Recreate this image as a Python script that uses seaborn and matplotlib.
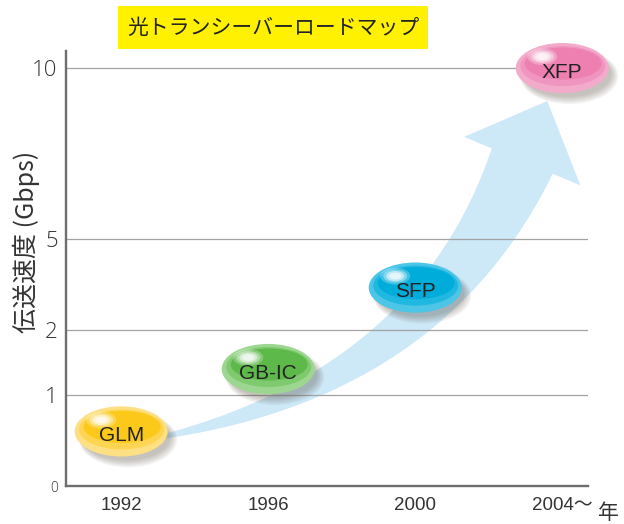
import numpy as np
import pandas as pd
import matplotlib
matplotlib.use("Agg")
import matplotlib.pyplot as plt
from matplotlib import font_manager
from matplotlib.patches import Ellipse, Polygon, Rectangle
from matplotlib.path import Path
from matplotlib.transforms import ScaledTranslation
import seaborn as sns

# data
products = ["GLM", "GB-IC", "SFP", "XFP"]
years = [1992, 1996, 2000, 2004]
speed_gbps = [0.6, 1.4, 3.4, 10]
year_labels = ["1992", "1996", "2000", "2004～"]
y_ticks = [0, 1, 2, 5, 10]
y_ticklabels = ["0", "1", "2", "5", "10"]
outer_colors = ["#fde083", "#9dd690", "#4cc5e7", "#f3abcb"]
mid_colors = ["#fdd552", "#7fc96e", "#20b8e0", "#f095bf"]
inner_colors = ["#fcc91a", "#5eb94b", "#00acd9", "#ed7fb1"]

sns.set_theme(style="white")
plt.rcParams['font.family'] = ['Liberation Sans', 'Noto Sans CJK JP', 'DejaVu Sans']


def has_font(name):
    try:
        font_manager.findfont(name, fallback_to_default=False)
        return True
    except Exception:
        return False


narrow = 'Liberation Sans Narrow' if has_font('Liberation Sans Narrow') else 'Liberation Sans'
cjk = 'Noto Sans CJK JP'

# non-linear value axis: tick values -> height above the baseline
scale_vals = [0, 1, 2, 5, 10, 20]
scale_pos = [0, 91, 156, 247, 418, 760]


def fwd(v):
    return np.interp(v, scale_vals, scale_pos)


def inv(p):
    return np.interp(p, scale_pos, scale_vals)


W, H = 624, 524
fig = plt.figure(figsize=(W / 100, H / 100), dpi=100)
ax = fig.add_axes([66 / W, (H - 486) / H, (588 - 66) / W, (486 - 51) / H])
ax.set_yscale('function', functions=(fwd, inv))
ax.set_ylim(0, 10.5)
ax.set_xlim(1990.5, 2004.7)

ax.set_yticks(y_ticks)
ax.set_yticklabels(y_ticklabels)
ax.set_xticks(years)
ax.set_xticklabels(year_labels, family=[narrow, cjk, 'DejaVu Sans'], fontsize=13.5,
                   color='#333333')
for lab in ax.get_yticklabels():
    lab.set_fontsize(16)
    lab.set_color('#333333')
    lab.set_family(['Open Sans', 'DejaVu Sans'])
    lab.set_fontweight('light')
ax.get_yticklabels()[0].set_fontsize(10)
ax.tick_params(length=0, pad=6)
ax.tick_params(axis='x', pad=8)

for v in y_ticks[1:]:
    ax.axhline(v, color='#a3a3a3', lw=0.9, zorder=0.5)
for s in ['top', 'right']:
    ax.spines[s].set_visible(False)
for s in ['left', 'bottom']:
    ax.spines[s].set_color('#6e6e6e')
    ax.spines[s].set_linewidth(1.7)

ax.set_ylabel("伝送速度 (Gbps)", fontsize=18, color='#333333', family=[cjk, 'DejaVu Sans'])
ax.yaxis.set_label_coords(-0.05, 0.56)

# growth arrow from GLM to XFP (display coordinates)
p0 = ax.transData.transform((years[0], speed_gbps[0])) + np.array([38, -6])
p2 = ax.transData.transform((years[-1], speed_gbps[-1])) + np.array([-40, -93])
d0 = np.array([1.0, 0.2])
d2 = np.array([25.0, 60.0])
d2 = d2 / np.linalg.norm(d2)
A = np.column_stack([d0, -d2])
t = np.linalg.solve(A, p2 - p0)
p1 = p0 + d0 * t[0]
u = np.linspace(0, 1, 80)[:, None]
curve = (1 - u) ** 2 * p0 + 2 * u * (1 - u) * p1 + u ** 2 * p2
tang = 2 * (1 - u) * (p1 - p0) + 2 * u * (p2 - p1)
tang = tang / np.linalg.norm(tang, axis=1)[:, None]
norm = np.column_stack([-tang[:, 1], tang[:, 0]])
width = 4 + 62 * u
left = curve + norm * width / 2
right = curve - norm * width / 2
nb = norm[-1]
head = [p2 + nb * 63, p2 + d2 * 65, p2 - nb * 63]
pts = np.vstack([left, head, right[::-1]])
ax.add_patch(Polygon(pts, closed=True, transform=None, facecolor='#cde8f7',
                     edgecolor='none', zorder=0.3))

# glossy capsules
ell_path = Path(Path.unit_circle().vertices * np.array([1.0, 0.54]),
                Path.unit_circle().codes)
df = pd.DataFrame({"year": years, "speed": speed_gbps, "product": products})

for i in range(len(products)):
    off = ScaledTranslation(years[i], speed_gbps[i], ax.transData)
    tr = fig.dpi_scale_trans + off
    for k in range(6):
        ax.add_patch(Ellipse((0.05 + 0.004 * k, -0.06 - 0.004 * k),
                             0.88 + 0.02 * k, 0.46 + 0.02 * k,
                             transform=tr, facecolor='#4a4030', alpha=0.06,
                             edgecolor='none', zorder=2, clip_on=False))

sns.scatterplot(data=df, x="year", y="speed", hue="product", palette=outer_colors,
                marker=ell_path, s=(0.93 * 72) ** 2, linewidth=0, legend=False,
                ax=ax, zorder=3, clip_on=False)

for i in range(len(products)):
    off = ScaledTranslation(years[i], speed_gbps[i], ax.transData)
    tr = fig.dpi_scale_trans + off
    ax.add_patch(Ellipse((0.005, 0.02), 0.85, 0.40, transform=tr,
                         facecolor=mid_colors[i], edgecolor='none', zorder=3.1,
                         clip_on=False))
    ax.add_patch(Ellipse((0.01, 0.045), 0.77, 0.32, transform=tr,
                         facecolor=inner_colors[i], edgecolor='none', zorder=3.2,
                         clip_on=False))
    for k, (w, h, a) in enumerate([(0.30, 0.17, 0.25), (0.24, 0.13, 0.35),
                                   (0.18, 0.10, 0.5), (0.12, 0.065, 0.6)]):
        ax.add_patch(Ellipse((-0.2, 0.115), w, h, transform=tr, facecolor='white',
                             alpha=a, edgecolor='none', zorder=3.3 + 0.01 * k,
                             clip_on=False))
    ax.annotate(products[i], (years[i], speed_gbps[i]), xytext=(0, -3),
                textcoords='offset points', ha='center', va='center',
                fontsize=15, color='#222222', zorder=4, annotation_clip=False)

ax.set_xlabel("")

# title box
fig.patches.append(Rectangle((118 / W, 1 - 49 / H), 310 / W, 43 / H,
                             transform=fig.transFigure, facecolor='#fff100',
                             edgecolor='none'))
fig.text(273 / W, 1 - 28 / H, "光トランシーバーロードマップ", ha='center', va='center',
         fontsize=15, color='#222222', family=[cjk, 'DejaVu Sans'])

fig.text(608 / W, 1 - 513 / H, "年", ha='center', va='center', fontsize=15,
         color='#333333', family=[cjk, 'DejaVu Sans'])

fig.savefig("out.png", dpi=100)
